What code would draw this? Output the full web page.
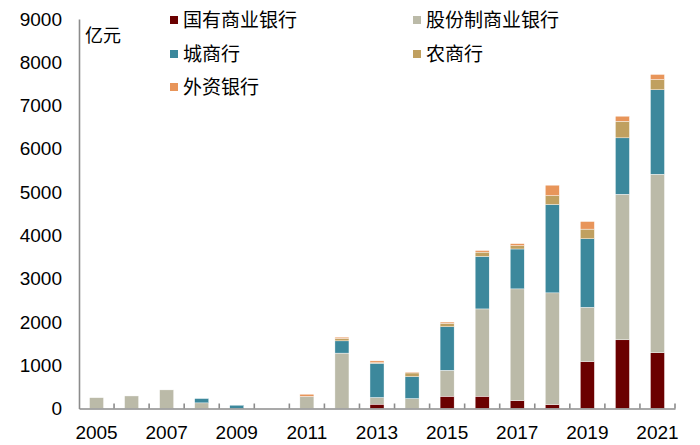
<!DOCTYPE html>
<html>
<head>
<meta charset="utf-8">
<script src="https://cdn.jsdelivr.net/npm/d3@7"></script>
<style>
  body { margin: 0; background: #fff; }
  text { font-family: "Liberation Sans", Arial, "Noto Sans CJK SC", sans-serif; }
  .cjk { font-family: "Noto Sans CJK SC", sans-serif; }
</style>
</head>
<body>
<div id="chart"></div>
<script>
// Data (亿元)
const years = [2005, 2006, 2007, 2008, 2009, 2010, 2011, 2012, 2013, 2014, 2015, 2016, 2017, 2018, 2019, 2020, 2021];
const stateBanks = [0, 0, 0, 0, 0, 0, 0, 0, 100, 0, 283, 283, 184, 92, 1085, 1587, 1287];
const jointStock = [250, 290, 430, 130, 0, 0, 280, 1280, 155, 230, 600, 2018, 2580, 2580, 1254, 3364, 4127];
const cityBanks = [0, 0, 0, 100, 76, 0, 0, 283, 790, 507, 1006, 1212, 922, 2041, 1583, 1303, 1950];
const ruralBanks = [0, 0, 0, 0, 0, 0, 0, 55, 15, 85, 78, 100, 77, 207, 223, 384, 238];
const foreignBanks = [0, 0, 0, 0, 0, 0, 50, 30, 40, 20, 30, 37, 46, 240, 175, 116, 116];
const seriesNames = ["国有商业银行", "股份制商业银行", "城商行", "农商行", "外资银行"];
const yTicks = [0, 1000, 2000, 3000, 4000, 5000, 6000, 7000, 8000, 9000];

const width = 700;
const height = 445;
const margin = { top: 19, right: 25, bottom: 36.5, left: 79 };

const colors = ["#6b0000", "#bbbaa8", "#3c889c", "#c0a060", "#e8955a"];
const keys = ["state", "joint", "city", "rural", "foreign"];

// Build rows for the stack
const rows = years.map((y, i) => ({
  year: y,
  state: stateBanks[i],
  joint: jointStock[i],
  city: cityBanks[i],
  rural: ruralBanks[i],
  foreign: foreignBanks[i],
}));

const svg = d3
  .select("#chart")
  .append("svg")
  .attr("width", width)
  .attr("height", height);

const x = d3
  .scaleBand()
  .domain(years)
  .range([margin.left, width - margin.right])
  .paddingInner(0.6)
  .paddingOuter(0.3);

const y = d3
  .scaleLinear()
  .domain([0, 9000])
  .range([height - margin.bottom, margin.top]);

const stacked = d3.stack().keys(keys)(rows);

// Bars
svg
  .append("g")
  .selectAll("g")
  .data(stacked)
  .join("g")
  .attr("fill", (d, i) => colors[i])
  .selectAll("rect")
  .data((d) => d.filter((p) => p[1] - p[0] > 0))
  .join("rect")
  .attr("x", (d) => x(d.data.year))
  .attr("y", (d) => y(d[1]))
  .attr("width", x.bandwidth())
  .attr("height", (d) => y(d[0]) - y(d[1]))
  .attr("stroke", "#fff")
  .attr("stroke-width", 0.4);

// Y axis
const yAxis = svg
  .append("g")
  .attr("transform", `translate(${margin.left},0)`)
  .call(
    d3
      .axisLeft(y)
      .tickValues(yTicks)
      .tickFormat(d3.format("d"))
      .tickSize(0)
      .tickPadding(17)
  );
yAxis.select(".domain").attr("stroke", "#8c8c8c").attr("stroke-width", 1.6);
yAxis.selectAll("text").style("font-size", "19px").attr("fill", "#000");

// X axis
const xAxis = svg
  .append("g")
  .attr("transform", `translate(0,${y(0)})`)
  .call(
    d3
      .axisBottom(x)
      .tickSize(0)
      .tickPadding(17)
      .tickFormat((d) => ((d - 2005) % 2 === 0 ? d : ""))
  );
xAxis.select(".domain").attr("stroke", "#8c8c8c").attr("stroke-width", 1.6);
xAxis.selectAll("text").style("font-size", "19px").attr("fill", "#000");

// Inward tick marks at category boundaries
const step = x.step();
xAxis
  .selectAll(".bound")
  .data(years)
  .join("line")
  .attr("class", "bound")
  .attr("x1", (d) => x(d) - step * 0.3 + step)
  .attr("x2", (d) => x(d) - step * 0.3 + step)
  .attr("y1", 0)
  .attr("y2", -5)
  .attr("stroke", "#8c8c8c")
  .attr("stroke-width", 1.6);

// Unit label
svg
  .append("text")
  .attr("class", "cjk")
  .attr("x", 85)
  .attr("y", 42)
  .style("font-size", "18px")
  .text("亿元");

// Legend
const legendPos = [
  { x: 170, y: 20 },
  { x: 413, y: 20 },
  { x: 170, y: 54 },
  { x: 413, y: 54 },
  { x: 170, y: 87 },
];
const legend = svg
  .append("g")
  .selectAll("g")
  .data(seriesNames)
  .join("g")
  .attr("transform", (d, i) => `translate(${legendPos[i].x},${legendPos[i].y})`);

legend
  .append("rect")
  .attr("x", 0)
  .attr("y", -4)
  .attr("width", 8)
  .attr("height", 8)
  .attr("fill", (d, i) => colors[i]);

legend
  .append("text")
  .attr("class", "cjk")
  .attr("x", 13)
  .attr("dy", "0.35em")
  .style("font-size", "19px")
  .text((d) => d);
</script>
</body>
</html>
